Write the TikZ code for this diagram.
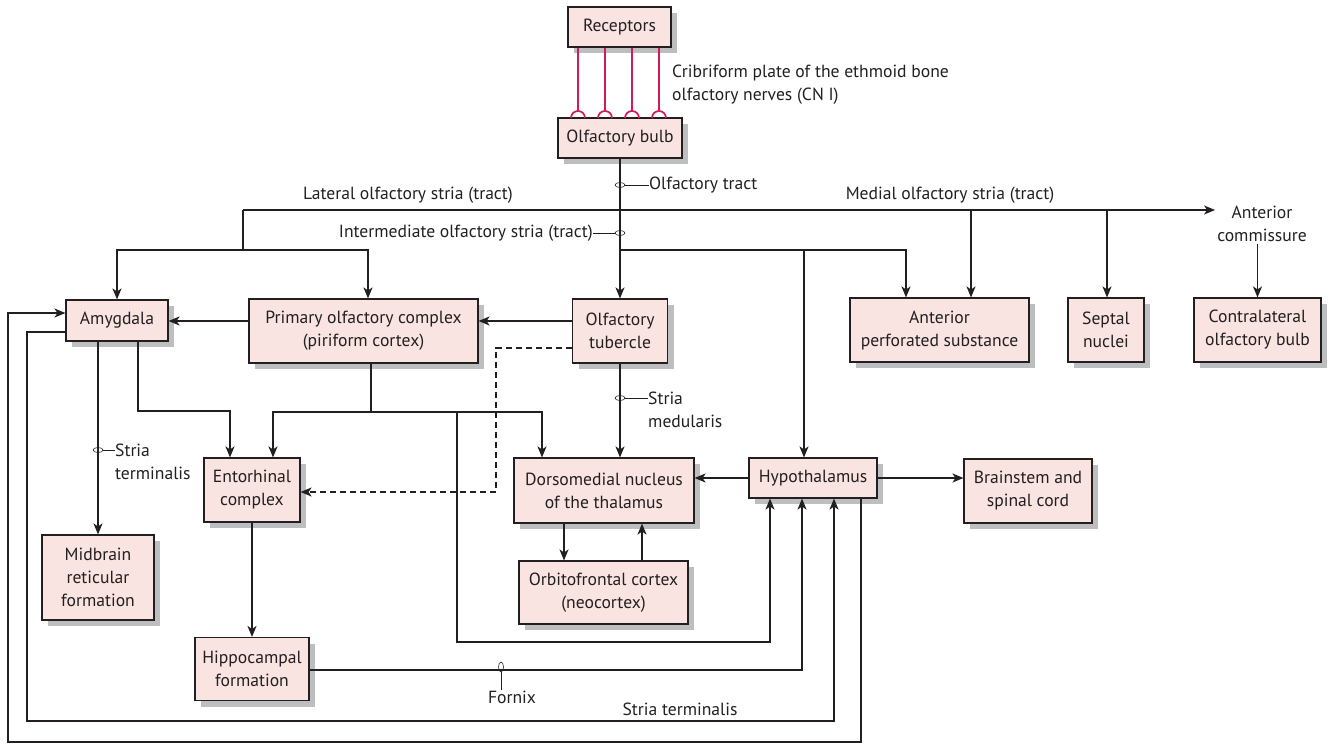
\documentclass[tikz,border=0pt]{standalone}
\usepackage{fontspec}
\setmainfont{PT Sans}
\usetikzlibrary{arrows.meta,shadows}
\definecolor{boxfill}{HTML}{F9E4E2}
\definecolor{shade}{HTML}{BCBEC0}
\definecolor{nerve}{HTML}{D2195A}
\definecolor{ink}{HTML}{231F20}

\begin{document}
\begin{tikzpicture}[x=1pt,y=-1pt,
  font=\fontsize{17.6}{23}\selectfont,
  box/.style={draw=ink, line width=1.1pt, fill=boxfill, align=center, inner sep=0pt, text=ink,
     general shadow={fill=shade, shadow xshift=6pt, shadow yshift=-6pt}},
  lbl/.style={inner sep=0pt, align=left, text=ink},
  link/.style={draw=ink, line width=1.4pt},
  arr/.style={link, -{Stealth[length=11pt,width=9pt,inset=3pt]}},
  dashlink/.style={arr, dash pattern=on 6pt off 4pt},
  nerveline/.style={draw=nerve, line width=1.7pt},
  bundle/.style={draw=ink, line width=0.6pt},
]
\useasboundingbox (0,0) rectangle (1329,744);

% ---- boxes ----
\node[box, minimum width=103pt, minimum height=40pt] (rec)    at (619.5,27)  {Receptors};
\node[box, minimum width=124pt, minimum height=40pt] (bulb)   at (620,138)   {Olfactory bulb};
\node[box, minimum width=102pt, minimum height=41pt] (amyg)   at (117,320.5) {Amygdala};
\node[box, minimum width=229pt, minimum height=64pt] (prim)   at (363.5,331) {Primary olfactory complex\\(piriform cortex)};
\node[box, minimum width=95pt,  minimum height=64pt] (tuber)  at (620,331)   {Olfactory\\tubercle};
\node[box, minimum width=179pt, minimum height=64pt] (aps)    at (939.5,330) {Anterior\\perforated substance};
\node[box, minimum width=76pt,  minimum height=64pt] (sept)   at (1106,330)  {Septal\\nuclei};
\node[box, minimum width=127pt, minimum height=64pt] (contra) at (1257.5,330){Contralateral\\olfactory bulb};
\node[box, minimum width=96pt,  minimum height=64pt] (ento)   at (252,490)   {Entorhinal\\complex};
\node[box, minimum width=180pt, minimum height=65pt] (dm)     at (604,490.5) {Dorsomedial nucleus\\of the thalamus};
\node[box, minimum width=128pt, minimum height=40pt] (hypo)   at (813,478)   {Hypothalamus};
\node[box, minimum width=128pt, minimum height=64pt] (brain)  at (1028,491)  {Brainstem and\\spinal cord};
\node[box, minimum width=112pt, minimum height=85pt] (mid)    at (98,577.5)  {Midbrain\\reticular\\formation};
\node[box, minimum width=169pt, minimum height=63pt] (orb)    at (603.5,592.5) {Orbitofrontal cortex\\(neocortex)};
\node[box, minimum width=114pt, minimum height=63pt] (hippo)  at (252,669)   {Hippocampal\\formation};

% ---- labels ----
\node[lbl, anchor=west] (crib) at (672,84.5) {Cribriform plate of the ethmoid bone\\olfactory nerves (CN I)};
\node[lbl, anchor=west] (otract) at (649,185) {Olfactory tract};
\node[lbl] (lat) at (408,195) {Lateral olfactory stria (tract)};
\node[lbl] (med) at (950,195) {Medial olfactory stria (tract)};
\node[lbl, anchor=east] (inter) at (593,233) {Intermediate olfactory stria (tract)};
\node[lbl, align=center, inner sep=2pt] (acom) at (1262,224) {Anterior\\commissure};
\node[lbl, anchor=west] (smed) at (648,410) {Stria\\medularis};
\node[lbl, anchor=west] (sterm) at (115,462) {Stria\\terminalis};
\node[lbl] (fornix) at (512,697) {Fornix};
\node[lbl] (sterm2) at (680,709) {Stria terminalis};

% ---- olfactory nerves through the cribriform plate ----
\foreach \x in {578,605,632,659} {
  \draw[nerveline] (\x,0 |- rec.south) -- (\x,111);
  \draw[nerveline] (\x-7,118) arc[start angle=180, end angle=0, radius=7pt];
}

% ---- olfactory tract and striae ----
\coordinate (latL) at (243,210);
\coordinate (latJ) at (243,250);
\coordinate (intJ) at (620,250);
\coordinate (medA) at (971,210);
\coordinate (medS) at (1107,210);
\coordinate (hypIn) at (804,250);

\draw[arr] (bulb.south) -- (bulb.south |- tuber.north);
\draw[bundle] (620,185) ellipse [x radius=5, y radius=2.5];
\draw[bundle] (625,185) -- (otract.west);
\draw[bundle] (620,233) ellipse [x radius=5, y radius=2.5];
\draw[bundle] (615,233) -- (inter.east);

\draw[link] (latL) -- (latJ);
\draw[arr] (latL) -- (acom.west |- latL);
\draw[arr] (latJ) -| (amyg.north);
\draw[arr] (latJ) -| (368,0 |- prim.north);
\draw[arr] (intJ) -| (906,0 |- aps.north);
\draw[arr] (hypIn) -- (hypIn |- hypo.north);
\draw[arr] (medA) -- (medA |- aps.north);
\draw[arr] (medS) -- (medS |- sept.north);
\draw[arr] (acom.south -| contra.north) -- (contra.north);

% ---- second row connections ----
\draw[arr] (prim.west |- 0,321) -- (amyg.east |- 0,321);
\draw[arr] (tuber.west |- 0,321) -- (prim.east |- 0,321);
\draw[dashlink] (tuber.west |- 0,348) -- (496,348) -- (496,492) -- (ento.east |- 0,492);
\draw[arr] (tuber.south) -- (tuber.south |- dm.north);
\draw[bundle] (620,398) ellipse [x radius=5, y radius=2.5];
\draw[bundle] (625,398) -- (smed.west |- 0,398);

% ---- piriform cortex outputs ----
\coordinate (pS) at (371,412);
\draw[link] (371,0 |- prim.south) -- (pS);
\draw[arr] (pS) -| (273,0 |- ento.north);
\draw[arr] (pS) -| (542,0 |- dm.north);
\draw[arr] (457,412) -- (457,642) -| (770,0 |- hypo.south);

% ---- amygdala outputs ----
\draw[arr] (138,0 |- amyg.south) |- (230,411) -- (230,0 |- ento.north);
\draw[arr] (98,0 |- amyg.south) -- (98,0 |- mid.north);
\draw[bundle] (98,450) ellipse [x radius=5, y radius=2.5];
\draw[bundle] (103,450) -- (sterm.west |- 0,450);
\draw[arr] (amyg.west |- 0,332) -| (27,721) -| (834,0 |- hypo.south);

% ---- hippocampal formation ----
\draw[arr] (ento.south) -- (ento.south |- hippo.north);
\draw[arr] (hippo.east |- 0,670) -| (802,0 |- hypo.south);
\draw[bundle] (501,667) ellipse [x radius=2.5, y radius=5];
\draw[bundle] (501,672) -- (501,0 |- fornix.north);

% ---- hypothalamus ----
\draw[arr] (861,0 |- hypo.south) -- (861,742) -| (8,313) -- (amyg.west |- 0,313);
\draw[arr] (hypo.west) -- (dm.east |- hypo.west);
\draw[arr] (hypo.east) -- (brain.west |- hypo.east);

% ---- thalamus and orbitofrontal cortex ----
\draw[arr] (564,0 |- dm.south) -- (564,0 |- orb.north);
\draw[arr] (642,0 |- orb.north) -- (642,0 |- dm.south);
\end{tikzpicture}
\end{document}
